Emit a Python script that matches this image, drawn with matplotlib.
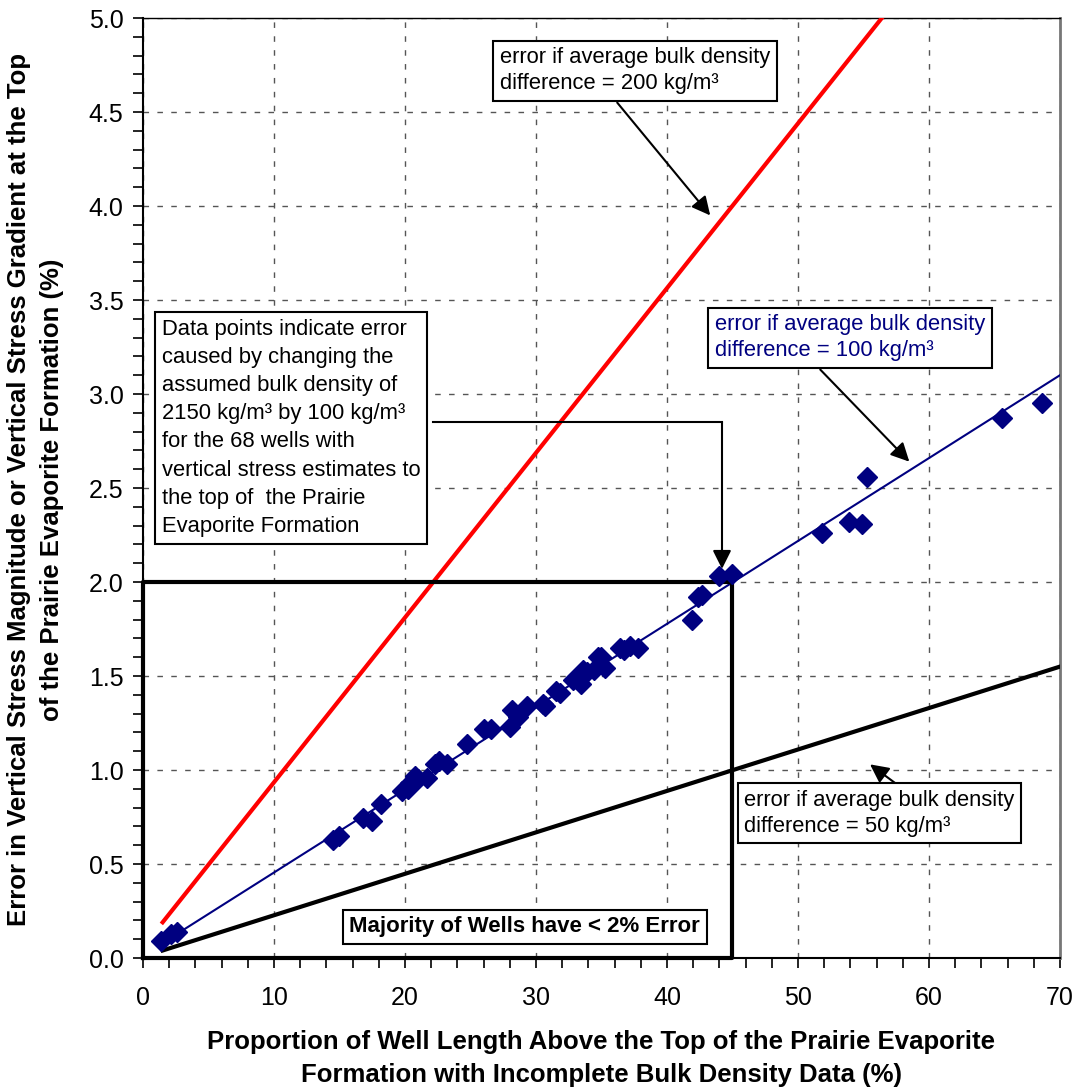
import numpy as np
import matplotlib
matplotlib.use('Agg')
import matplotlib.pyplot as plt
from matplotlib.ticker import MultipleLocator, FormatStrFormatter

plt.rcParams['font.family'] = ['Liberation Sans', 'DejaVu Sans']

# well data: proportion of incomplete density log (%) vs stress error (%)
well_pct = [1.4, 2.1, 2.6, 14.5, 15.0, 16.8, 17.5, 18.2, 19.8, 20.2, 20.4,
            20.8, 21.0, 21.7, 22.3, 22.6, 23.2, 24.7, 26.0, 26.6, 28.0,
            28.2, 28.6, 29.3, 30.5, 30.7, 31.5, 31.8, 32.8, 33.4, 33.6,
            33.9, 34.4, 34.7, 35.0, 35.3, 36.4, 36.7, 37.2, 37.8, 41.9,
            42.4, 42.7, 44.0, 45.0, 51.8, 53.9, 54.9, 55.3, 65.6, 68.6]
well_err = [0.09, 0.13, 0.14, 0.63, 0.65, 0.745, 0.73, 0.82, 0.89, 0.90, 0.93,
            0.97, 0.95, 0.96, 1.03, 1.05, 1.03, 1.14, 1.22, 1.22, 1.23,
            1.32, 1.28, 1.34, 1.35, 1.34, 1.42, 1.41, 1.48, 1.46, 1.53,
            1.52, 1.53, 1.60, 1.60, 1.54, 1.65, 1.64, 1.66, 1.65, 1.80,
            1.92, 1.93, 2.03, 2.04, 2.26, 2.32, 2.31, 2.56, 2.87, 2.95]

# error lines for different density differences
err200_x = [1.5, 56.4]
err200_y = [0.19, 5.0]
err100_x = [1.5, 70.0]
err100_y = [0.08, 3.10]
err50_x = [1.5, 70.0]
err50_y = [0.04, 1.55]

# majority box limits
box_x = [0, 45, 45, 0, 0]
box_y = [0, 0, 2.0, 2.0, 0]

navy = '#000080'

fig = plt.figure(figsize=(10.76, 10.91), dpi=100)
ax = fig.add_axes([0.1329, 0.1219, 0.8522, 0.8616])

ax.plot(err200_x, err200_y, color='#ff0000', lw=3, zorder=3)
ax.plot(err50_x, err50_y, color='black', lw=3, zorder=3)
ax.plot(err100_x, err100_y, color=navy, lw=1.5, zorder=3)
ax.plot(well_pct, well_err, 'D', color=navy, ms=10, zorder=4)
ax.plot(box_x, box_y, color='black', lw=3, zorder=3, clip_on=False)

ax.set_xlim(0, 70)
ax.set_ylim(0, 5)
ax.xaxis.set_major_locator(MultipleLocator(10))
ax.xaxis.set_minor_locator(MultipleLocator(2))
ax.yaxis.set_major_locator(MultipleLocator(0.5))
ax.yaxis.set_minor_locator(MultipleLocator(0.1))
ax.yaxis.set_major_formatter(FormatStrFormatter('%.1f'))
ax.tick_params(which='both', direction='out', length=7, width=1.2, color='black')
ax.tick_params(axis='x', labelsize=18, pad=13)
ax.tick_params(axis='y', labelsize=18, pad=7)
ax.grid(True, which='major', color='#555555', lw=1, linestyle=(0, (4, 6)))

ax.spines['left'].set_linewidth(1.5)
ax.spines['bottom'].set_linewidth(1.5)
ax.spines['top'].set_linewidth(1)
ax.spines['right'].set_color('#777777')
ax.spines['right'].set_linewidth(2)

ax.set_xlabel('Proportion of Well Length Above the Top of the Prairie Evaporite\n'
              'Formation with Incomplete Bulk Density Data (%)',
              fontsize=18.5, fontweight='bold', linespacing=1.45, va='center')
ax.xaxis.set_label_coords(0.5, -0.107)
ax.set_ylabel('Error in Vertical Stress Magnitude or Vertical Stress Gradient at the Top\n'
              'of the Prairie Evaporite Formation (%)',
              fontsize=18.5, fontweight='bold', linespacing=1.45, va='center')
ax.yaxis.set_label_coords(-0.117, 0.498)

boxprops = dict(boxstyle='square,pad=0.3', fc='white', ec='black', lw=1.5)
arrowprops = dict(arrowstyle='-|>', mutation_scale=28, lw=1.5, color='black',
                  shrinkA=0, shrinkB=0)
fs = 15.8

ax.text(27.25, 4.72, 'error if average bulk density\ndifference = 200 kg/m³',
        fontsize=fs, ha='left', va='center', linespacing=1.3, bbox=boxprops, zorder=6)
ax.annotate('', xy=(43.3, 3.95), xytext=(36.2, 4.55), arrowprops=arrowprops, zorder=5)

ax.text(43.65, 3.30, 'error if average bulk density\ndifference = 100 kg/m³',
        fontsize=fs, color=navy, ha='left', va='center', linespacing=1.3,
        bbox=boxprops, zorder=6)
ax.annotate('', xy=(58.5, 2.64), xytext=(51.7, 3.13), arrowprops=arrowprops, zorder=5)

ax.text(45.9, 0.77, 'error if average bulk density\ndifference = 50 kg/m³',
        fontsize=fs, ha='left', va='center', linespacing=1.3, bbox=boxprops, zorder=6)
ax.annotate('', xy=(55.5, 1.03), xytext=(58.2, 0.89), arrowprops=arrowprops, zorder=5)

ax.text(1.45, 2.82, 'Data points indicate error\ncaused by changing the\n'
        'assumed bulk density of\n2150 kg/m³ by 100 kg/m³\nfor the 68 wells with\n'
        'vertical stress estimates to\nthe top of  the Prairie\nEvaporite Formation',
        fontsize=fs, ha='left', va='center', linespacing=1.45, bbox=boxprops, zorder=6)
ax.plot([22.1, 44.2], [2.85, 2.85], color='black', lw=1.5, zorder=5)
ax.annotate('', xy=(44.2, 2.07), xytext=(44.2, 2.85), arrowprops=arrowprops, zorder=5)

ax.text(29.15, 0.165, 'Majority of Wells have < 2% Error', fontsize=16,
        fontweight='bold', ha='center', va='center', bbox=boxprops, zorder=6)

fig.savefig('out.png', dpi=100)
